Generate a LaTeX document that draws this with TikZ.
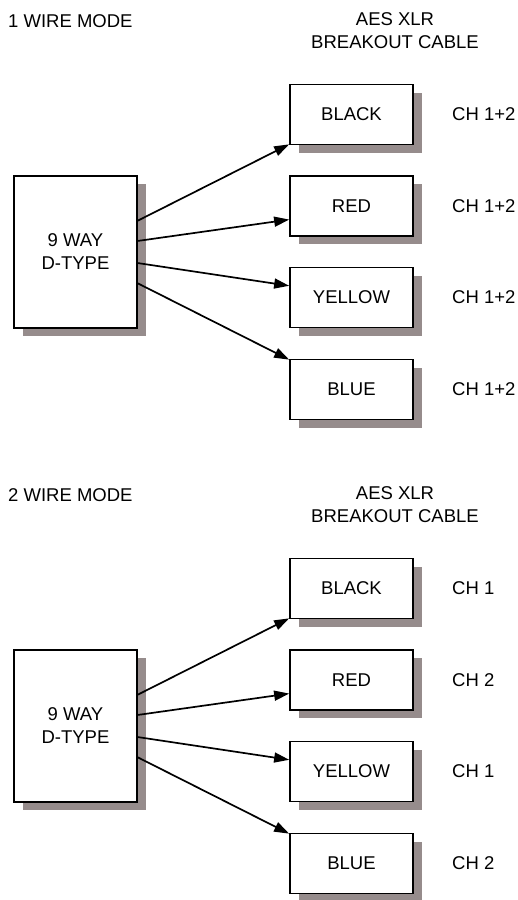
\documentclass[tikz,border=0pt]{standalone}
\usepackage{fontspec}
\setmainfont{Liberation Sans}
\usetikzlibrary{arrows.meta,shadows,calc}
\definecolor{shadowgray}{RGB}{150,140,140}
\tikzset{
  lbl/.style={font=\fontsize{18.5}{23}\selectfont, inner sep=0pt, align=center},
  chlbl/.style={lbl, anchor=west},
  cablebox/.style={draw=black, line width=1.7pt, fill=white, minimum width=123pt, minimum height=60pt,
     lbl, drop shadow={shadow xshift=9pt, shadow yshift=-8pt, fill=shadowgray, opacity=1}},
  dtbox/.style={cablebox, minimum height=152pt},
  wire/.style={line width=1.7pt, -{Triangle[length=15pt,width=10pt]}}
}
\begin{document}
\begin{tikzpicture}[x=1pt,y=-1pt]
\useasboundingbox (0,0) rectangle (517,900);
\foreach \s/\n/\ca/\cb/\cc/\cd in {0/1/CH 1+2/CH 1+2/CH 1+2/CH 1+2, 474/2/CH 1/CH 2/CH 1/CH 2}{
  \begin{scope}[yshift=-\s pt]
    \node[lbl, anchor=west] (mode\n) at (8,21) {\n\ WIRE MODE};
    \node[lbl] (aes\n) at (395,31) {AES XLR\\BREAKOUT CABLE};
    \node[dtbox] (dt\n) at (75.5,252) {9 WAY\\D-TYPE};
    \node[cablebox] (bk\n) at (351.5,114.5) {BLACK};
    \node[cablebox] (rd\n) at (351.5,206) {RED};
    \node[cablebox] (yl\n) at (351.5,297.5) {YELLOW};
    \node[cablebox] (bl\n) at (351.5,389.5) {BLUE};
    \node[chlbl] (cha\n) at (452,114.5) {\ca};
    \node[chlbl] (chb\n) at (452,206) {\cb};
    \node[chlbl] (chc\n) at (452,297.5) {\cc};
    \node[chlbl] (chd\n) at (452,389.5) {\cd};
    \draw[wire] ($(dt\n.north east)!0.296!(dt\n.south east)$) -- ($(bk\n.south west)+(0,-1)$);
    \draw[wire] ($(dt\n.north east)!0.428!(dt\n.south east)$) -- ($(rd\n.north west)!0.72!(rd\n.south west)$);
    \draw[wire] ($(dt\n.north east)!0.572!(dt\n.south east)$) -- ($(yl\n.north west)!0.31!(yl\n.south west)$);
    \draw[wire] ($(dt\n.north east)!0.704!(dt\n.south east)$) -- ($(bl\n.north west)+(0,1)$);
  \end{scope}
}
\end{tikzpicture}
\end{document}
